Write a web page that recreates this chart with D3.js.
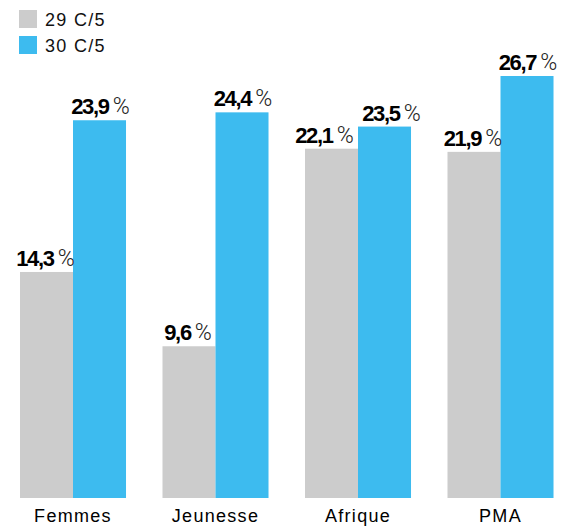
<!DOCTYPE html>
<html>
<head>
<meta charset="utf-8">
<script src="https://cdn.jsdelivr.net/npm/d3@7"></script>
<style>
  body { margin: 0; background: #fff; }
  text { font-family: "Liberation Sans", Arial, sans-serif; }
</style>
</head>
<body>
<svg id="chart"></svg>
<script>
const categories = ['Femmes', 'Jeunesse', 'Afrique', 'PMA'];
const seriesNames = ['29 C/5', '30 C/5'];
const values29 = [14.3, 9.6, 22.1, 21.9];
const values30 = [23.9, 24.4, 23.5, 26.7];
const colors = ['#cccccc', '#3dbbef'];

const width = 569, height = 529;
const baseline = 498;

const svg = d3.select('#chart')
    .attr('width', width)
    .attr('height', height);

const x = d3.scaleBand()
    .domain(categories)
    .range([1.75, 571.75])
    .paddingInner(0.256)
    .paddingOuter(0.128);

const xSub = d3.scaleBand()
    .domain(seriesNames)
    .range([0, x.bandwidth()]);

const y = d3.scaleLinear()
    .domain([0, 26.7])
    .range([baseline, 76]);

const rows = categories.map((c, i) => {
    // push the two labels apart when they sit at about the same height
    const close = Math.abs(y(values29[i]) - y(values30[i])) < 30;
    return {
        cat: c,
        vals: [
            { s: seriesNames[0], v: values29[i], k: 0, shift: close ? -7 : -1 },
            { s: seriesNames[1], v: values30[i], k: 1, shift: close ? 7 : 1 }
        ]
    };
});

const fmt = v => d3.format('.1f')(v).replace('.', ',');

const groups = svg.selectAll('.group')
    .data(rows)
    .enter()
    .append('g')
    .attr('class', 'group')
    .attr('transform', d => `translate(${x(d.cat)},0)`);

groups.selectAll('rect')
    .data(d => d.vals)
    .enter()
    .append('rect')
    .attr('x', d => xSub(d.s))
    .attr('y', d => y(d.v))
    .attr('width', xSub.bandwidth())
    .attr('height', d => baseline - y(d.v))
    .attr('fill', d => colors[d.k]);

// value labels: bold number + light percent sign
const labels = groups.selectAll('.val')
    .data(d => d.vals)
    .enter()
    .append('text')
    .attr('class', 'val')
    .attr('x', d => xSub(d.s) + xSub.bandwidth() / 2 + d.shift)
    .attr('y', d => y(d.v) - 6)
    .attr('text-anchor', 'middle')
    .style('font-size', '22px');

labels.append('tspan')
    .attr('font-weight', 'bold')
    .attr('letter-spacing', '-1.3')
    .attr('fill', '#000')
    .text(d => fmt(d.v));

labels.append('tspan')
    .attr('fill', '#222')
    .attr('dx', 4)
    .style('font-family', 'Roboto, "Liberation Sans", sans-serif')
    .style('font-weight', 300)
    .style('font-size', '23px')
    .text('%');

// category axis
const xAxis = svg.append('g')
    .attr('transform', `translate(0,${baseline})`)
    .call(d3.axisBottom(x).tickSize(0).tickPadding(11));

xAxis.select('.domain').remove();
xAxis.selectAll('text')
    .style('font-size', '18px')
    .style('letter-spacing', '1.3px')
    .style('font-family', '"Liberation Sans", Arial, sans-serif')
    .attr('fill', '#000');

// legend
const legend = svg.append('g')
    .attr('transform', 'translate(19,10)');

const items = legend.selectAll('.item')
    .data(seriesNames)
    .enter()
    .append('g')
    .attr('transform', (d, i) => `translate(0,${i * 26})`);

items.append('rect')
    .attr('width', 18)
    .attr('height', 18)
    .attr('fill', (d, i) => colors[i]);

items.append('text')
    .attr('x', 26)
    .attr('y', 16)
    .style('font-size', '18px')
    .style('letter-spacing', '1.3px')
    .attr('fill', '#111')
    .text(d => d);
</script>
</body>
</html>
